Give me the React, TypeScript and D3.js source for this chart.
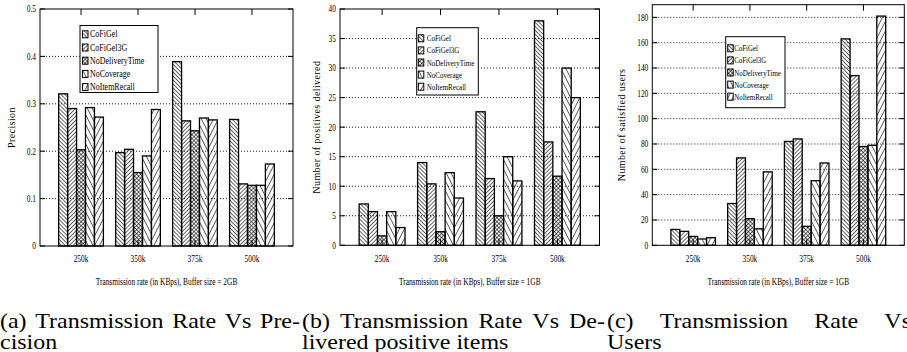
import React, { useEffect, useRef } from "react";
import * as d3 from "d3";

const W = 907;
const H = 352;

const rates = ["250k", "350k", "375k", "500k"];
const seriesNames = ["CoFiGel", "CoFiGel3G", "NoDeliveryTime", "NoCoverage", "NoItemRecall"];

// (a) precision per transmission rate
const precCoFiGel = [0.321, 0.197, 0.389, 0.267];
const precCoFiGel3G = [0.29, 0.204, 0.264, 0.131];
const precNoDeliveryTime = [0.203, 0.155, 0.243, 0.128];
const precNoCoverage = [0.292, 0.19, 0.27, 0.128];
const precNoItemRecall = [0.272, 0.288, 0.266, 0.173];

// (b) number of positives delivered
const posCoFiGel = [7.0, 14.0, 22.6, 38.0];
const posCoFiGel3G = [5.7, 10.4, 11.3, 17.5];
const posNoDeliveryTime = [1.6, 2.3, 5.0, 11.7];
const posNoCoverage = [5.7, 12.3, 15.0, 30.0];
const posNoItemRecall = [3.0, 8.0, 10.9, 25.0];

// (c) number of satisfied users
const usersCoFiGel = [12.5, 33, 82, 163];
const usersCoFiGel3G = [11, 69, 84, 134];
const usersNoDeliveryTime = [7, 21, 15, 78];
const usersNoCoverage = [5, 13, 51, 79];
const usersNoItemRecall = [6, 58, 65, 181];

const precTicks = [0, 0.1, 0.2, 0.3, 0.4, 0.5];
const posTicks = [0, 5, 10, 15, 20, 25, 30, 35, 40];
const userTicks = [0, 20, 40, 60, 80, 100, 120, 140, 160, 180];

const captionA = ["(a) Transmission Rate Vs Pre-", "cision"];
const captionB = ["(b) Transmission Rate Vs De-", "livered positive items"];
const captionC = ["(c) Transmission Rate Vs", "Users"];

const FONT = "Liberation Serif";
const CAP_SIZE = 22;
const CAP_SX = 1.09;

type Panel = {
  series: number[][];
  ticks: number[];
  yMax: number;
  fmt: (v: number) => string;
  yLabel: string;
  xLabel: string;
  left: number;
  right: number;
  top: number;
  bottom: number;
  yLabelX: number;
  legend: { x: number; y: number; w: number; h: number; row0: number; rowH: number; sw: number; tx: number; fs: number; sx: number };
  caption: string[];
  capX: number;
  capW: number;
};

const panels: Panel[] = [
  {
    series: [precCoFiGel, precCoFiGel3G, precNoDeliveryTime, precNoCoverage, precNoItemRecall],
    ticks: precTicks,
    yMax: 0.5,
    fmt: (v) => (v === 0 ? "0" : v.toFixed(1)),
    yLabel: "Precision",
    xLabel: "Transmission rate (in KBps), Buffer size = 2GB",
    left: 40,
    right: 293,
    top: 9,
    bottom: 246,
    yLabelX: 11,
    legend: { x: 80, y: 25.5, w: 78, h: 67, row0: 34.3, rowH: 13.2, sw: 2.5, tx: 10, fs: 9.5, sx: 0.84 },
    caption: captionA,
    capX: 0,
    capW: 300,
  },
  {
    series: [posCoFiGel, posCoFiGel3G, posNoDeliveryTime, posNoCoverage, posNoItemRecall],
    ticks: posTicks,
    yMax: 40,
    fmt: (v) => String(v),
    yLabel: "Number of positives delivered",
    xLabel: "Transmission rate (in KBps), Buffer size = 1GB",
    left: 340,
    right: 599.5,
    top: 9,
    bottom: 245.3,
    yLabelX: 316,
    legend: { x: 416.7, y: 27.7, w: 61.6, h: 67.3, row0: 38.3, rowH: 12.1, sw: 1.6, tx: 10, fs: 9, sx: 0.78 },
    caption: captionB,
    capX: 302,
    capW: 303,
  },
  {
    series: [usersCoFiGel, usersCoFiGel3G, usersNoDeliveryTime, usersNoCoverage, usersNoItemRecall],
    ticks: userTicks,
    yMax: 190,
    fmt: (v) => String(v),
    yLabel: "Number of satisfied users",
    xLabel: "Transmission rate (in KBps), Buffer size = 1GB",
    left: 652.3,
    right: 904.3,
    top: 4.7,
    bottom: 245.3,
    yLabelX: 621,
    legend: { x: 725.7, y: 36.7, w: 59.3, h: 71, row0: 48.3, rowH: 12.1, sw: 2, tx: 8.6, fs: 9, sx: 0.76 },
    caption: captionC,
    capX: 607,
    capW: 304,
  },
];

const patternIds = ["pBack", "pFwd", "pCross", "pSteepBack", "pSteepFwd"];

export default function App() {
  const ref = useRef<SVGSVGElement>(null);

  useEffect(() => {
    const svg = d3.select(ref.current!);
    svg.selectAll("*").remove();

    svg.append("rect").attr("width", W).attr("height", H).attr("fill", "#fff");

    // hatch fills: a vertical line in a tile, rotated
    const defs = svg.append("defs");
    const hatch = (id: string, gap: number, angles: number[]) => {
      angles.forEach((a, k) => {
        const pid = angles.length > 1 ? `${id}_${k}` : id;
        const p = defs
          .append("pattern")
          .attr("id", pid)
          .attr("patternUnits", "userSpaceOnUse")
          .attr("width", gap)
          .attr("height", gap)
          .attr("patternTransform", `rotate(${a})`);
        p.append("line")
          .attr("x1", gap / 2)
          .attr("x2", gap / 2)
          .attr("y1", -1)
          .attr("y2", gap + 1)
          .attr("stroke", "#000")
          .attr("stroke-width", 0.6);
      });
    };
    hatch("pBack", 2.8, [-45]);
    hatch("pFwd", 2.8, [45]);
    hatch("pCross", 2.8, [-45, 45]);
    hatch("pSteepBack", 4.4, [-27]);
    hatch("pSteepFwd", 4.4, [27]);

    const fillLayers = (idx: number) =>
      idx === 2 ? ["url(#pCross_0)", "url(#pCross_1)"] : [`url(#${patternIds[idx]})`];

    const sText = (
      g: d3.Selection<any, any, any, any>,
      x: number,
      y: number,
      str: string,
      size: number,
      sx: number,
      anchor: string
    ) =>
      g
        .append("text")
        .attr("transform", `translate(${x},${y}) scale(${sx},1)`)
        .style("font-family", FONT)
        .style("font-size", `${size}px`)
        .attr("text-anchor", anchor)
        .attr("fill", "#000")
        .text(str);

    panels.forEach((p) => {
      const g = svg.append("g");
      const x = d3.scaleLinear().domain([-0.72, rates.length - 1 + 0.72]).range([p.left, p.right]);
      const y = d3.scaleLinear().domain([0, p.yMax]).range([p.bottom, p.top]);
      const bw = 0.157;

      // dotted grid
      g.selectAll(".grid")
        .data(p.ticks.filter((t) => t > 0 && t < p.yMax))
        .join("line")
        .attr("x1", p.left)
        .attr("x2", p.right)
        .attr("y1", (d) => y(d))
        .attr("y2", (d) => y(d))
        .attr("stroke", "#000")
        .attr("stroke-width", 0.9)
        .attr("stroke-dasharray", "1,2");

      // bars
      p.series.forEach((vals, si) => {
        const x0 = (i: number) => x(i + (si - 2.5) * bw);
        const w = x(bw) - x(0);
        fillLayers(si).forEach((f) => {
          g.selectAll(null)
            .data(vals)
            .join("rect")
            .attr("x", (_, i) => x0(i))
            .attr("y", (d) => y(d))
            .attr("width", w)
            .attr("height", (d) => y(0) - y(d))
            .attr("fill", f);
        });
        g.selectAll(null)
          .data(vals)
          .join("rect")
          .attr("x", (_, i) => x0(i))
          .attr("y", (d) => y(d))
          .attr("width", w)
          .attr("height", (d) => y(0) - y(d))
          .attr("fill", "none")
          .attr("stroke", "#000")
          .attr("stroke-width", 1.3);
      });

      // frame
      g.append("rect")
        .attr("x", p.left)
        .attr("y", p.top)
        .attr("width", p.right - p.left)
        .attr("height", p.bottom - p.top)
        .attr("fill", "none")
        .attr("stroke", "#000")
        .attr("stroke-width", 1);

      // ticks
      p.ticks.forEach((t) => {
        g.append("line").attr("x1", p.left).attr("x2", p.left + 5).attr("y1", y(t)).attr("y2", y(t)).attr("stroke", "#000");
        g.append("line").attr("x1", p.right).attr("x2", p.right - 5).attr("y1", y(t)).attr("y2", y(t)).attr("stroke", "#000");
        sText(g, p.left - 4, y(t) + 3.4, p.fmt(t), 10, 0.74, "end");
      });
      rates.forEach((r, i) => {
        g.append("line").attr("x1", x(i)).attr("x2", x(i)).attr("y1", p.top).attr("y2", p.top + 6).attr("stroke", "#000");
        g.append("line").attr("x1", x(i)).attr("x2", x(i)).attr("y1", p.bottom).attr("y2", p.bottom - 6).attr("stroke", "#000");
        sText(g, x(i), 261.5, r, 10, 0.74, "middle");
      });

      // axis titles
      sText(g, (p.left + p.right) / 2, 284.5, p.xLabel, 10, 0.74, "middle");
      g.append("text")
        .attr("transform", `translate(${p.yLabelX + 3.5},${(p.top + p.bottom) / 2}) rotate(-90)`)
        .style("font-family", FONT)
        .style("font-size", "10px")
        .attr("letter-spacing", 0.4)
        .attr("text-anchor", "middle")
        .text(p.yLabel);

      // legend
      const L = p.legend;
      g.append("rect")
        .attr("x", L.x)
        .attr("y", L.y)
        .attr("width", L.w)
        .attr("height", L.h)
        .attr("fill", "#fff")
        .attr("stroke", "#000")
        .attr("stroke-width", 1);
      seriesNames.forEach((name, si) => {
        const cy = L.row0 + si * L.rowH;
        fillLayers(si).forEach((f) => {
          g.append("rect").attr("x", L.x + L.sw).attr("y", cy - 3.5).attr("width", 5.5).attr("height", 7).attr("fill", f);
        });
        g.append("rect")
          .attr("x", L.x + L.sw)
          .attr("y", cy - 3.5)
          .attr("width", 5.5)
          .attr("height", 7)
          .attr("fill", "none")
          .attr("stroke", "#000")
          .attr("stroke-width", 1);
        sText(g, L.x + L.tx, cy + 3, name, L.fs, L.sx, "start");
      });

      // caption: first line justified across the column, second line flush left
      const cap = svg.append("g");
      const words = p.caption[0].split(" ");
      const ws = words.map((wd) => {
        const t = sText(cap, 0, 0, wd, CAP_SIZE, CAP_SX, "start");
        const len = (t.node() as SVGTextElement).getComputedTextLength() * CAP_SX;
        return { t, len };
      });
      const total = d3.sum(ws, (d) => d.len);
      const gap = (p.capW - total) / (words.length - 1);
      let cx = p.capX;
      ws.forEach((d) => {
        d.t.attr("transform", `translate(${cx},328) scale(${CAP_SX},1)`);
        cx += d.len + gap;
      });
      sText(cap, p.capX, 348.5, p.caption[1], CAP_SIZE, CAP_SX, "start");
    });
  }, []);

  return (
    <svg
      ref={ref}
      width={W}
      height={H}
      style={{ position: "absolute", left: 0, top: 0, display: "block" }}
    />
  );
}
